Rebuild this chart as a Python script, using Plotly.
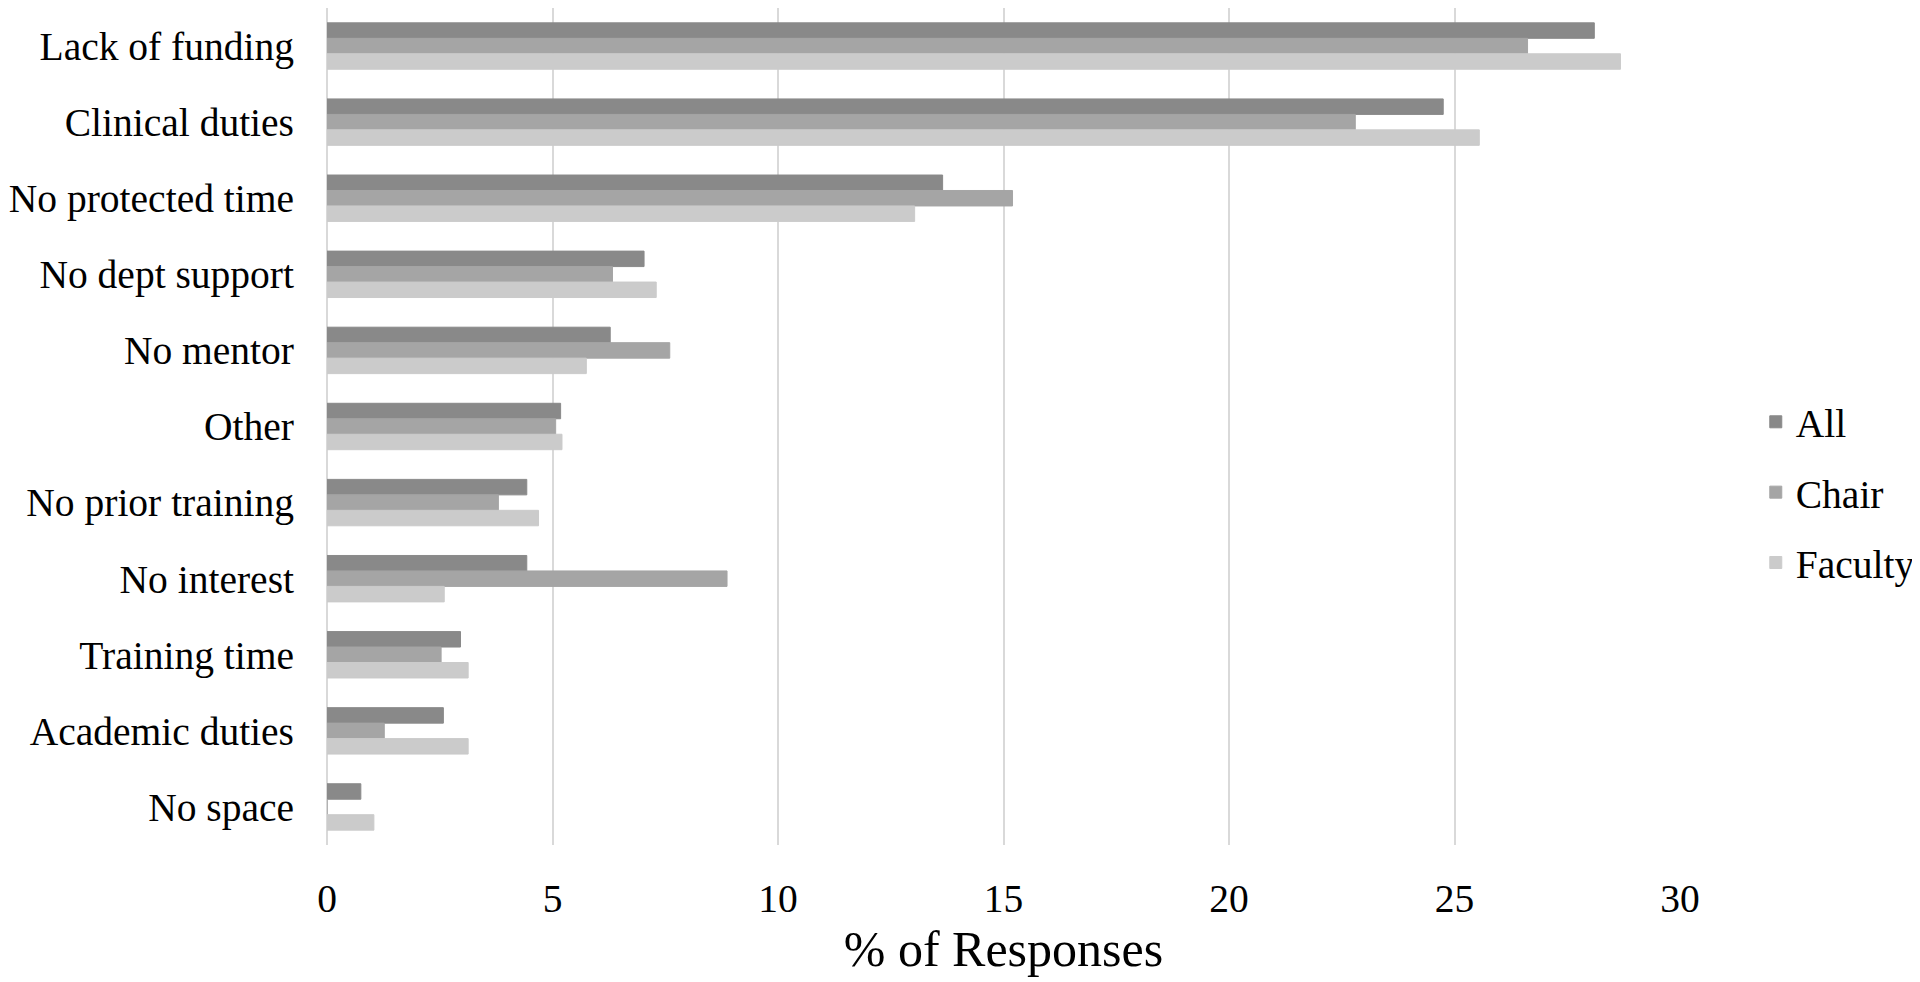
import plotly.graph_objects as go

categories = [
    "Lack of funding", "Clinical duties", "No protected time", "No dept support",
    "No mentor", "Other", "No prior training", "No interest", "Training time",
    "Academic duties", "No space",
]
all_pct = [28.1, 24.75, 13.65, 7.03, 6.28, 5.18, 4.43, 4.43, 2.96, 2.58, 0.75]
chair_pct = [26.62, 22.8, 15.2, 6.33, 7.6, 5.07, 3.8, 8.87, 2.53, 1.27, 0.0]
faculty_pct = [28.68, 25.55, 13.03, 7.3, 5.75, 5.21, 4.69, 2.6, 3.13, 3.13, 1.04]

series = [
    ("All", all_pct, "#898989"),
    ("Chair", chair_pct, "#a5a5a5"),
    ("Faculty", faculty_pct, "#cbcbcb"),
]

font_family = "Liberation Serif, Times New Roman, serif"

fig = go.Figure()
for name, vals, color in series:
    fig.add_trace(go.Bar(
        y=categories, x=vals, name=name, orientation="h",
        marker=dict(color=color, line=dict(width=1, color=color)),
        legendgroup=name,
    ))

# page body has an 8px margin, so the figure is 8px smaller than the window
fig.update_layout(
    barmode="group",
    bargap=0.39,
    bargroupgap=0,
    width=1912, height=974,
    margin=dict(l=319, r=240, t=0, b=137, autoexpand=False),
    plot_bgcolor="white",
    paper_bgcolor="white",
    font=dict(family=font_family, size=39.5, color="black"),
    legend=dict(
        x=1.056, xanchor="left", y=0.421, yanchor="middle",
        font=dict(size=39.5), tracegroupgap=16,
    ),
    xaxis=dict(
        range=[0, 30], dtick=5, showgrid=True, gridcolor="#d9d9d9", gridwidth=2,
        zeroline=True, zerolinecolor="#d9d9d9", zerolinewidth=2,
        showline=False, ticks="", ticklabelstandoff=26, automargin=False,
        tickfont=dict(size=39.5),
        title=dict(text="% of Responses", font=dict(size=50), standoff=6),
    ),
    yaxis=dict(
        autorange="reversed", showgrid=False, showline=False, ticks="",
        ticklabelstandoff=32, tickfont=dict(size=39.5), automargin=False,
    ),
)

fig.write_html("out.html")
